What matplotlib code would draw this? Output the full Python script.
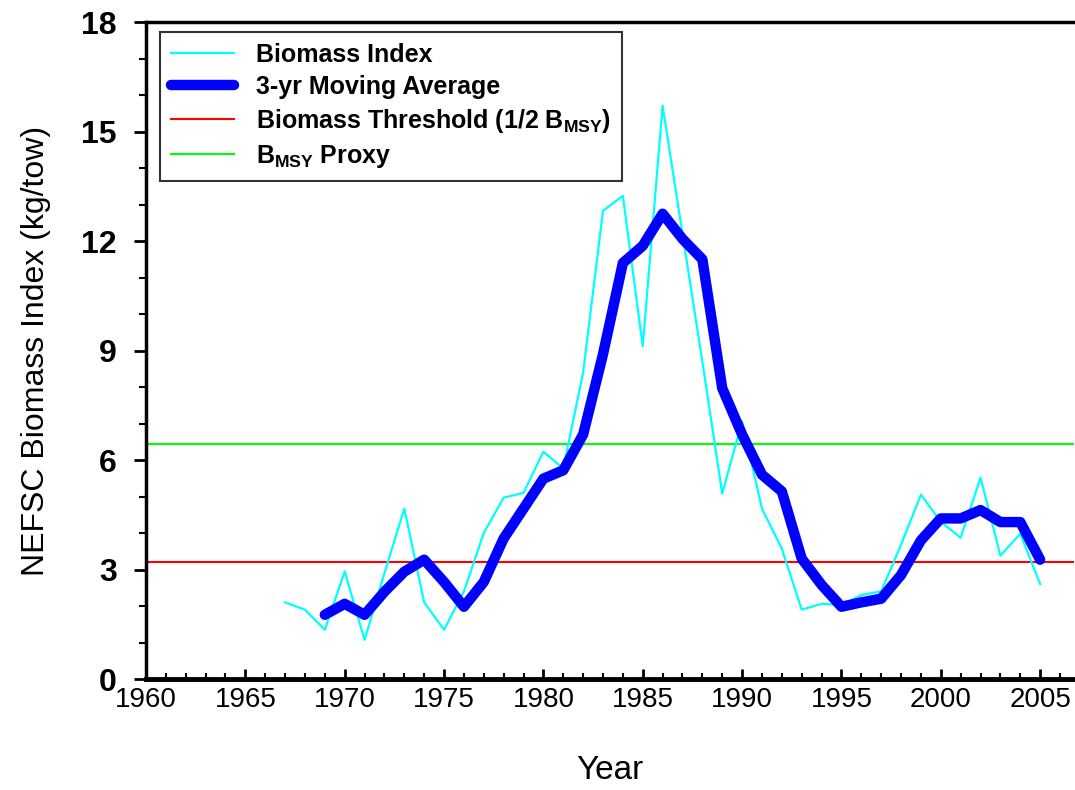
import numpy as np
import matplotlib
matplotlib.use("Agg")
import matplotlib.pyplot as plt
from matplotlib.ticker import MultipleLocator

plt.rcParams['font.family'] = ['Liberation Sans', 'DejaVu Sans']
plt.rcParams['mathtext.fontset'] = 'custom'
plt.rcParams['mathtext.rm'] = 'Liberation Sans'
plt.rcParams['mathtext.bf'] = 'Liberation Sans:bold'

# survey index by year
years = np.arange(1967, 2006)
index = [2.1, 1.9, 1.35, 2.95, 1.07, 2.9, 4.67, 2.1, 1.35, 2.4,
         4.0, 4.97, 5.1, 6.23, 5.77, 8.4, 12.83, 13.24, 9.12, 15.71,
         12.2, 8.7, 5.08, 7.06, 4.67, 3.57, 1.9, 2.06, 2.03, 2.3,
         2.4, 3.68, 5.05, 4.31, 3.87, 5.52, 3.38, 3.98, 2.6]

# 3-year moving average
ma_years = np.arange(1969, 2006)
ma = [1.76, 2.06, 1.76, 2.39, 2.94, 3.27, 2.66, 1.98, 2.66, 3.85,
      4.67, 5.49, 5.72, 6.7, 8.9, 11.4, 11.87, 12.75, 12.06, 11.5,
      7.97, 6.7, 5.6, 5.14, 3.3, 2.58, 1.98, 2.1, 2.2, 2.85,
      3.8, 4.4, 4.4, 4.63, 4.3, 4.3, 3.27]

threshold = 3.21
bmsy = 6.43

fig = plt.figure(figsize=(10.75, 7.9), dpi=100)
ax = fig.add_axes([0.1358, 0.1405, 0.8632, 0.8315])

ax.plot(years, index, color='#00FFFF', lw=1.6, label='Biomass Index', zorder=3)
ax.plot(ma_years, ma, color='#0000FF', lw=7.5, solid_capstyle='round',
        solid_joinstyle='round', label='3-yr Moving Average', zorder=4)
ax.axhline(threshold, color='#FF0000', lw=1.5,
           label=r'Biomass Threshold (1/2 $\mathbf{B_{MSY}}$)', zorder=2)
ax.axhline(bmsy, color='#00FF00', lw=1.5, label=r'$\mathbf{B_{MSY}}$ Proxy', zorder=2)

ax.set_xlim(1960, 2006.7)
ax.set_ylim(0, 18)
ax.xaxis.set_major_locator(MultipleLocator(5))
ax.xaxis.set_minor_locator(MultipleLocator(1))
ax.yaxis.set_major_locator(MultipleLocator(3))
ax.yaxis.set_minor_locator(MultipleLocator(1))

ax.tick_params(axis='x', which='major', direction='in', length=7, width=2,
               labelsize=20, pad=6)
ax.tick_params(axis='x', which='minor', direction='in', length=4, width=1.5)
ax.tick_params(axis='y', which='major', direction='out', length=9, width=2,
               labelsize=23, pad=12)
ax.tick_params(axis='y', which='minor', direction='out', length=5, width=1.5)
for lab in ax.get_yticklabels():
    lab.set_fontweight('bold')

ax.spines['right'].set_visible(False)
ax.spines['bottom'].set_linewidth(3.5)
ax.spines['left'].set_linewidth(2.5)
ax.spines['top'].set_linewidth(2.5)

ax.set_xlabel('Year', fontsize=24, labelpad=30)
ax.set_ylabel('NEFSC Biomass Index (kg/tow)', fontsize=23, labelpad=22)

leg = ax.legend(loc='upper left', bbox_to_anchor=(0.015, 0.985),
                borderaxespad=0,
                prop={'weight': 'bold', 'size': 18}, frameon=True,
                fancybox=False, edgecolor='black', handlelength=2.5,
                handletextpad=0.9, labelspacing=0.32, borderpad=0.45)
leg.get_frame().set_linewidth(1.5)

fig.savefig('out.png', dpi=100)
